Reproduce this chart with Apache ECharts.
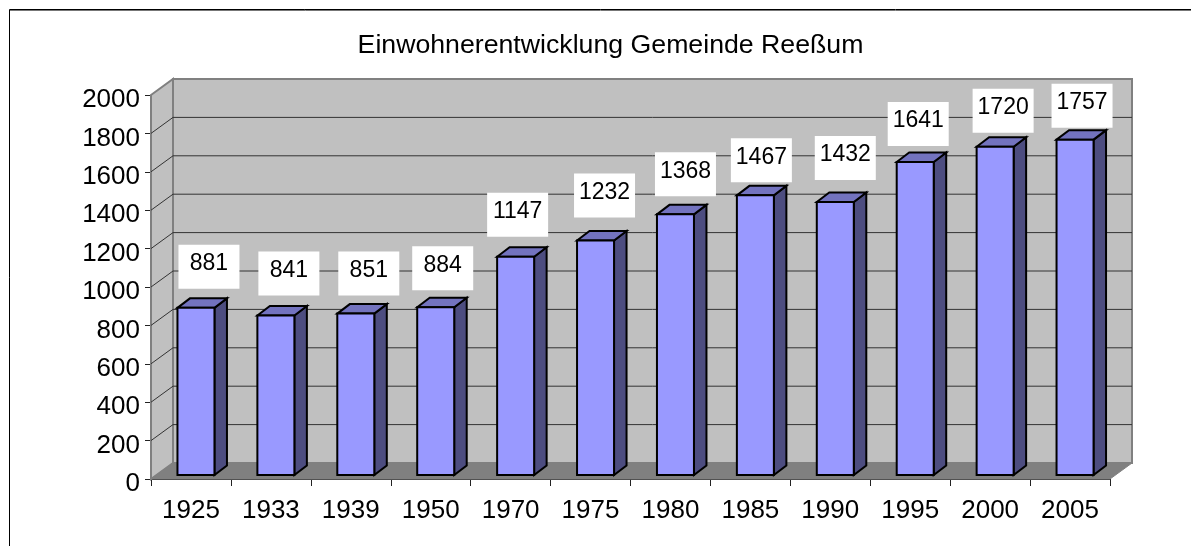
<!DOCTYPE html>
<html>
<head>
<meta charset="utf-8">
<title>Einwohnerentwicklung Gemeinde Reeßum</title>
<style>
html, body { margin: 0; padding: 0; background: #fff; }
#main { width: 1191px; height: 546px; }
</style>
<script src="https://cdn.jsdelivr.net/npm/echarts@6/dist/echarts.min.js"></script>
</head>
<body>
<div id="main"></div>
<script>
var years = ['1925', '1933', '1939', '1950', '1970', '1975', '1980', '1985', '1990', '1995', '2000', '2005'];
var einwohner = [881, 841, 851, 884, 1147, 1232, 1368, 1467, 1432, 1641, 1720, 1757];
var yTicks = [0, 200, 400, 600, 800, 1000, 1200, 1400, 1600, 1800, 2000];

// hand placed labels in the original, pixels relative to the bar
var labelDx = [13, 13, 13, 7, 2, 9, 10, 6, 10, 3, 8, 7];
var labelDy = [43, 44, 42, 41, 44, 47, 42, 37, 46, 40, 38, 36];

// depth of the fake 3d box
var depthX = 22, depthY = -16;
var font = '"Liberation Sans", Arial, sans-serif';

var myChart = echarts.init(document.getElementById('main'));

function renderWalls(params, api) {
    var b0 = api.coord([0, 0]);
    var size = api.size([1, 0]);
    var left = b0[0] - size[0] / 2;
    var right = left + size[0] * years.length;
    var base = b0[1];
    var top = api.coord([0, 2000])[1];
    var children = [
        // back wall
        {type: 'polygon', shape: {points: [[left + depthX, top + depthY], [right + depthX, top + depthY], [right + depthX, base + depthY], [left + depthX, base + depthY]]},
            style: {fill: '#c0c0c0', stroke: '#808080', lineWidth: 2}},
        // side wall
        {type: 'polygon', shape: {points: [[left, top], [left + depthX, top + depthY], [left + depthX, base + depthY], [left, base]]},
            style: {fill: '#c0c0c0', stroke: '#808080', lineWidth: 2}},
        // floor
        {type: 'polygon', shape: {points: [[left, base], [left + depthX, base + depthY], [right + depthX, base + depthY], [right, base]]},
            style: {fill: '#808080', stroke: '#808080', lineWidth: 1}}
    ];
    yTicks.forEach(function (t) {
        if (t === 0 || t === 2000) return;
        var y = api.coord([0, t])[1];
        children.push({type: 'polyline', shape: {points: [[left, y], [left + depthX, y + depthY], [right + depthX, y + depthY]]},
            style: {fill: null, stroke: '#333', lineWidth: 1}});
    });
    return {type: 'group', children: children};
}

function renderBar(params, api) {
    var i = api.value(0);
    var val = api.value(1);
    var c = api.coord([i, val]);
    var base = api.coord([i, 0]);
    var w = 37;
    var x0 = c[0] - w / 2 + 5, x1 = x0 + w;
    var yb = base[1] - 4, yt = c[1] - 2;
    var dx = 12.5, dy = -9.5;
    var line = {stroke: '#000', lineWidth: 2, lineJoin: 'miter'};
    return {type: 'group', children: [
        {type: 'polygon', shape: {points: [[x1, yt], [x1 + dx, yt + dy], [x1 + dx, yb + dy], [x1, yb]]},
            style: Object.assign({fill: '#4d4d80'}, line)},
        {type: 'polygon', shape: {points: [[x0, yt], [x0 + dx, yt + dy], [x1 + dx, yt + dy], [x1, yt]]},
            style: Object.assign({fill: '#7373bf'}, line)},
        {type: 'rect', shape: {x: x0, y: yt, width: w, height: yb - yt},
            style: Object.assign({fill: '#9999ff'}, line)}
    ]};
}

function renderLabel(params, api) {
    var i = api.value(0);
    var val = api.value(1);
    var c = api.coord([i, val]);
    var cx = c[0] + 5 + labelDx[i];
    var cy = c[1] - 3 - labelDy[i];
    return {type: 'group', children: [
        {type: 'rect', shape: {x: cx - 30.5, y: cy - 19, width: 61, height: 44}, style: {fill: '#fff'}},
        {type: 'text', style: {x: cx, y: cy, text: String(val), fill: '#000', font: '23px ' + font, textAlign: 'center', textVerticalAlign: 'middle'}}
    ]};
}

var barData = years.map(function (y, i) { return [i, einwohner[i]]; });

var option = {
    animation: false,
    title: {
        text: 'Einwohnerentwicklung Gemeinde Reeßum',
        left: 605.5, top: 27, textAlign: 'center',
        textStyle: {fontFamily: font, fontSize: 26.7, fontWeight: 'normal', color: '#000'}
    },
    grid: {left: 151, top: 95, width: 959, height: 384, containLabel: false},
    xAxis: {
        type: 'category', data: years,
        axisLine: {show: true, lineStyle: {color: '#222', width: 1}},
        axisTick: {show: true, length: 7, alignWithLabel: false, lineStyle: {color: '#222'}},
        axisLabel: {fontFamily: font, fontSize: 26, color: '#000', margin: 19},
        splitLine: {show: false}
    },
    yAxis: {
        type: 'value', min: 0, max: 2000, interval: 200,
        axisLine: {show: true, lineStyle: {color: '#222', width: 1}},
        axisTick: {show: true, length: 6, lineStyle: {color: '#222'}},
        axisLabel: {
            fontFamily: font, fontSize: 26, color: '#000', margin: 11,
            verticalAlign: 'top', lineHeight: 10,
            formatter: function (v) { return String(v); }
        },
        splitLine: {show: false}
    },
    series: [
        {type: 'custom', coordinateSystem: 'cartesian2d', renderItem: renderWalls, data: [[0, 0]], silent: true, z: 1},
        {type: 'custom', coordinateSystem: 'cartesian2d', renderItem: renderBar, data: barData, z: 2},
        {type: 'custom', coordinateSystem: 'cartesian2d', renderItem: renderLabel, data: barData, z: 3}
    ],
    graphic: [
        {type: 'polyline', shape: {points: [[9.5, 546], [9.5, 9.5], [1191, 9.5]]}, style: {fill: null, stroke: '#000', lineWidth: 1}, z: 10},
        {type: 'line', shape: {x1: 10, y1: 10.5, x2: 1191, y2: 10.5}, style: {stroke: '#777', lineWidth: 1}, z: 10}
    ]
};

myChart.setOption(option);
</script>
</body>
</html>
